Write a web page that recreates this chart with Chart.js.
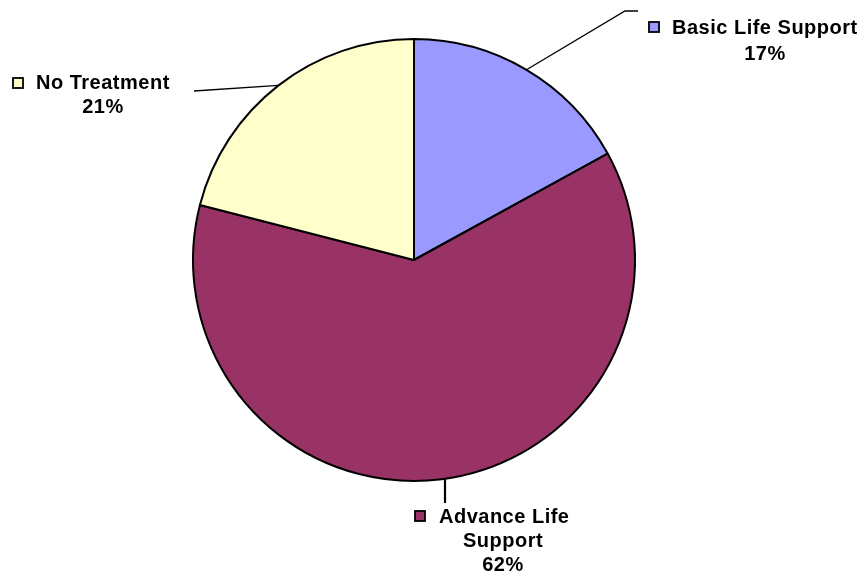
<!DOCTYPE html>
<html>
<head>
<meta charset="utf-8">
<script src="https://cdn.jsdelivr.net/npm/chart.js@4"></script>
<style>
  html, body { margin: 0; padding: 0; background: #fff; }
  #wrap { width: 867px; height: 577px; position: relative; }
</style>
</head>
<body>
<div id="wrap"><canvas id="pieChart"></canvas></div>
<script>
// данные
const categories = ["Basic Life Support", "Advance Life Support", "No Treatment"];
const values = [17, 62, 21];
const sliceColors = ["#9999ff", "#993366", "#ffffcc"];

// подписи: строки текста и куда тянуть выноску
const labelLines = [
  ["Basic Life Support"],
  ["Advance Life", "Support"],
  ["No Treatment"]
];
const labelLayout = [
  { bend: [625, 11], end: [638, 11], key: [649, 22], lines: [[0, 28, "left", 672]], pctAt: [765, 54] },
  { vertical: true, end: [445, 503], key: [415, 511], lines: [[0, 517, "left", 439], [503, 541, "center"]], pctAt: [503, 565] },
  { end: [194, 91], key: [13, 78], lines: [[0, 83, "left", 36]], pctAt: [103, 107] }
];

const FONT = "bold 20px 'Liberation Sans', Arial, sans-serif";

const total = values.reduce((a, b) => a + b, 0);

const calloutPlugin = {
  id: "callouts",
  afterDatasetsDraw(chart) {
    const ctx = chart.ctx;
    const arcs = chart.getDatasetMeta(0).data;
    ctx.save();
    arcs.forEach((arc, i) => {
      const p = arc.getProps(["x", "y", "startAngle", "endAngle", "outerRadius"], true);
      const lay = labelLayout[i];
      const mid = (p.startAngle + p.endAngle) / 2;
      let sx = p.x + Math.cos(mid) * p.outerRadius;
      let sy = p.y + Math.sin(mid) * p.outerRadius;
      if (lay.vertical) {
        // отвесная выноска вниз от края круга
        const dx = lay.end[0] - p.x;
        sx = lay.end[0];
        sy = p.y + Math.sqrt(p.outerRadius * p.outerRadius - dx * dx);
      }

      // выноска
      ctx.strokeStyle = "#000";
      ctx.lineWidth = lay.vertical ? 2.2 : 1.3;
      ctx.beginPath();
      ctx.moveTo(sx, sy);
      if (lay.bend) ctx.lineTo(lay.bend[0], lay.bend[1]);
      ctx.lineTo(lay.end[0], lay.end[1]);
      ctx.stroke();

      // квадратик легенды
      ctx.fillStyle = sliceColors[i];
      ctx.fillRect(lay.key[0], lay.key[1], 10, 10);
      ctx.lineWidth = 1.8;
      ctx.strokeRect(lay.key[0], lay.key[1], 10, 10);

      // текст
      ctx.font = FONT;
      ctx.fillStyle = "#000";
      ctx.textBaseline = "middle";
      if ("letterSpacing" in ctx) ctx.letterSpacing = "0.5px";
      labelLines[i].forEach((txt, j) => {
        const ln = lay.lines[j];
        if (ln[2] === "left") {
          ctx.textAlign = "left";
          ctx.fillText(txt, ln[3], ln[1]);
        } else {
          ctx.textAlign = "center";
          ctx.fillText(txt, ln[0], ln[1]);
        }
      });
      ctx.textAlign = "center";
      const pct = Math.round(values[i] / total * 100) + "%";
      ctx.fillText(pct, lay.pctAt[0], lay.pctAt[1]);
    });
    ctx.restore();
  }
};

new Chart(document.getElementById("pieChart"), {
  type: "pie",
  data: {
    labels: categories,
    datasets: [{
      data: values,
      backgroundColor: sliceColors,
      borderColor: "#000",
      borderWidth: 2,
      hoverOffset: 0
    }]
  },
  options: {
    responsive: true,
    maintainAspectRatio: false,
    animation: false,
    events: [],
    layout: { padding: { left: 192, right: 231, top: 38, bottom: 95 } },
    plugins: {
      legend: { display: false },
      tooltip: { enabled: false }
    }
  },
  plugins: [calloutPlugin]
});
</script>
</body>
</html>
